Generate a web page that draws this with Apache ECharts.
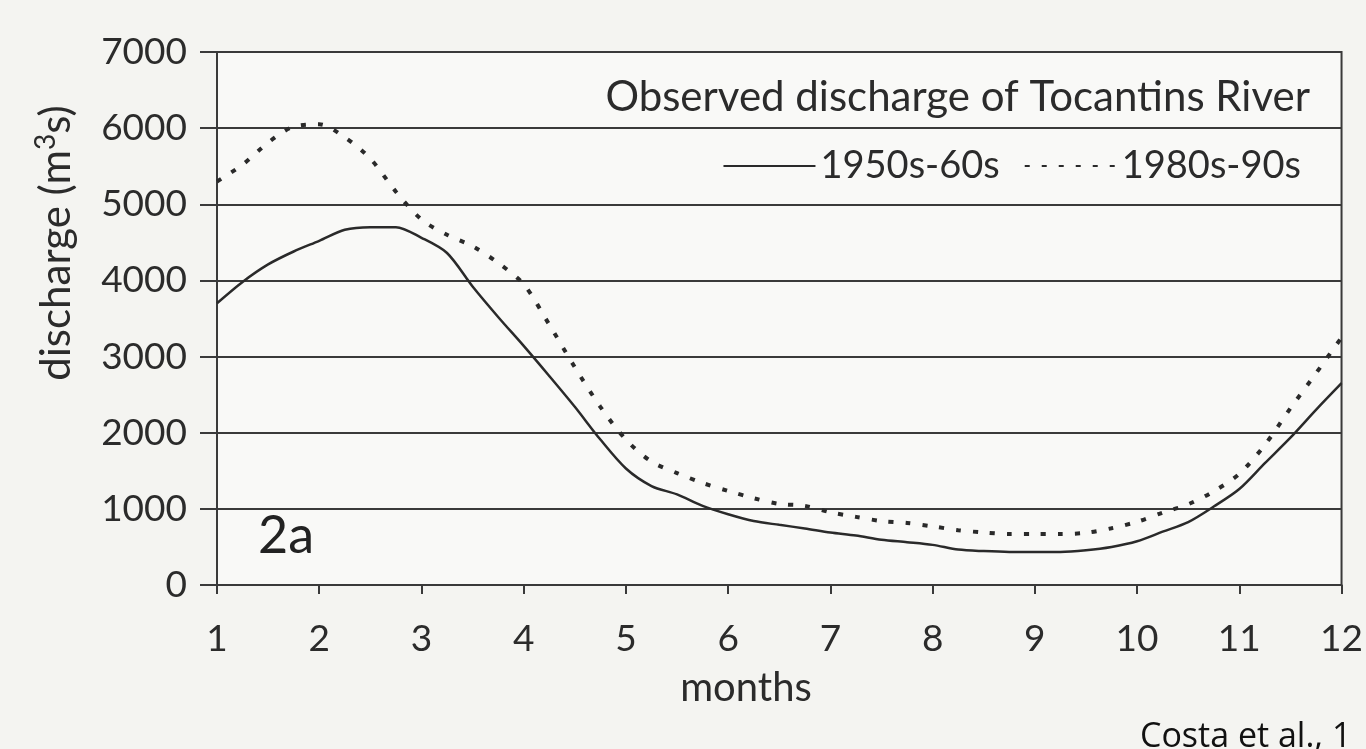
<!DOCTYPE html>
<html>
<head>
<meta charset="utf-8">
<script src="https://cdn.jsdelivr.net/npm/echarts@6/dist/echarts.min.js"></script>
<style>
html,body{margin:0;padding:0;background:#f4f4f1;}
#chart{width:1366px;height:749px;}
</style>
</head>
<body>
<div id="chart"></div>
<script>
// ---- data ----
const months = [1, 1.25, 1.5, 1.75, 2, 2.25, 2.5, 2.75, 3, 3.25, 3.5, 3.75, 4, 4.25, 4.5, 4.75,
  5, 5.25, 5.5, 5.75, 6, 6.25, 6.5, 6.75, 7, 7.25, 7.5, 7.75, 8, 8.25, 8.5, 8.75,
  9, 9.25, 9.5, 9.75, 10, 10.25, 10.5, 10.75, 11, 11.25, 11.5, 11.75, 12];
const discharge1950s = [3700, 3980, 4210, 4380, 4520, 4665, 4700, 4700, 4560, 4360, 3920, 3520, 3140, 2745, 2340, 1910,
  1530, 1300, 1190, 1040, 930, 840, 790, 743, 690, 650, 595, 563, 527, 465, 445, 435,
  435, 435, 457, 500, 574, 700, 826, 1030, 1260, 1600, 1935, 2300, 2650];
const discharge1980s = [5300, 5520, 5810, 6020, 6050, 5880, 5600, 5165, 4800, 4600, 4450, 4230, 3950, 3420, 2860, 2340,
  1910, 1620, 1470, 1340, 1235, 1140, 1065, 1040, 955, 895, 840, 815, 770, 720, 690, 670,
  670, 670, 685, 745, 830, 950, 1060, 1230, 1460, 1840, 2320, 2780, 3250];
const xTicks = ['1','2','3','4','5','6','7','8','9','10','11','12'];
const seriesNames = ['1950s-60s', '1980s-90s'];
const chartTitle = 'Observed discharge of Tocantins River';

const pairs = (ys) => months.map((m, i) => [m, ys[i]]);
const FONT = 'Lato, "Open Sans", sans-serif';
const INK = '#2b2b2b';

const chart = echarts.init(document.getElementById('chart'));
chart.setOption({
  backgroundColor: '#f4f4f1',
  animation: false,
  grid: {left: 217, right: 23, top: 52, bottom: 164, show: true,
         borderColor: '#3a3a3a', borderWidth: 2, backgroundColor: '#f9f9f7'},
  xAxis: {
    type: 'value', min: 1, max: 12, interval: 1,
    axisLine: {show: true, lineStyle: {color: '#3a3a3a', width: 2}},
    axisTick: {show: true, inside: false, length: 9, lineStyle: {color: '#3a3a3a', width: 2}},
    splitLine: {show: false},
    axisLabel: {margin: 36, fontFamily: FONT, fontSize: 37, color: INK,
                formatter: (v) => xTicks[Math.round(v) - 1] || ''}
  },
  yAxis: {
    type: 'value', min: 0, max: 7000, interval: 1000,
    axisLine: {show: true, lineStyle: {color: '#3a3a3a', width: 2}},
    axisTick: {show: true, inside: false, length: 17, lineStyle: {color: '#3a3a3a', width: 2}},
    splitLine: {show: true, lineStyle: {color: '#3a3a3a', width: 2}},
    axisLabel: {margin: 30, fontFamily: FONT, fontSize: 37, color: INK,
                formatter: (v) => String(v)}
  },
  legend: {
    data: seriesNames, right: 60, top: 142, itemWidth: 92, itemHeight: 14, itemGap: 24,
    itemStyle: {opacity: 0},
    textStyle: {fontFamily: FONT, fontSize: 38, color: INK}
  },
  series: [
    {name: seriesNames[0], type: 'line', data: pairs(discharge1950s), smooth: 0.3,
     symbol: 'none', lineStyle: {color: '#2a2a2a', width: 2.5}, itemStyle: {color: '#2a2a2a'}},
    {name: seriesNames[1], type: 'line', data: pairs(discharge1980s), smooth: 0.3,
     symbol: 'none', lineStyle: {color: '#2a2a2a', width: 4, type: [5, 12]}, itemStyle: {color: '#2a2a2a'}}
  ],
  graphic: [
    {type: 'text', right: 56, top: 76,
     style: {text: chartTitle, font: '42px ' + FONT, fill: INK}},
    {type: 'text', left: 258, top: 510,
     style: {text: '2a', font: '52px ' + FONT, fill: '#222'}},
    {type: 'text', x: 746, y: 688,
     style: {text: 'months', font: '40px ' + FONT, fill: INK, align: 'center', verticalAlign: 'middle'}},
    {type: 'text', x: 56, y: 243, rotation: Math.PI / 2,
     style: {text: '{a|discharge (m}{s|3}{a|s)}', align: 'center', verticalAlign: 'middle',
       rich: {a: {font: '42px ' + FONT, fill: INK}, s: {font: '28px ' + FONT, fill: INK, verticalAlign: 'top', padding: [0,0,20,0]}}}},
    {type: 'text', left: 1140, top: 720,
     style: {text: 'Costa et al., 1', font: '34px "Open Sans", sans-serif', fill: '#111'}}
  ]
});
</script>
</body>
</html>
